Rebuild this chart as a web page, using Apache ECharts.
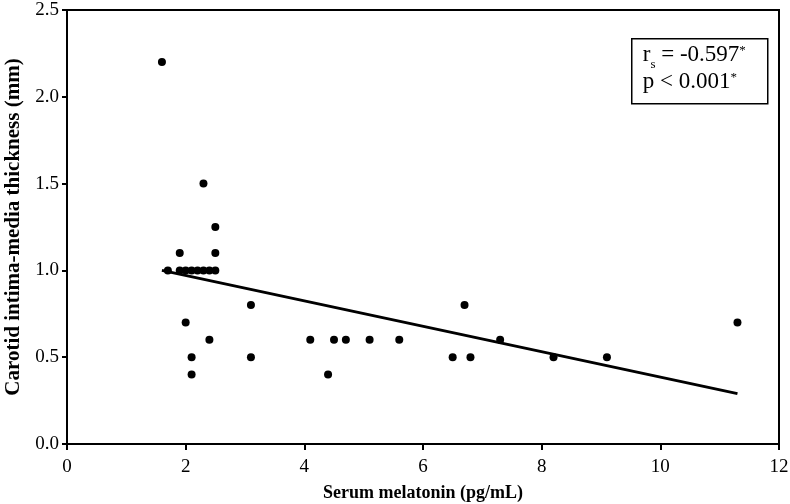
<!DOCTYPE html>
<html>
<head>
<meta charset="utf-8">
<script src="https://cdn.jsdelivr.net/npm/echarts@6/dist/echarts.min.js"></script>
<style>html,body{margin:0;padding:0;background:#fff}#c{width:790px;height:504px}</style>
</head>
<body>
<div id="c"></div>
<script>
var melatonin = [1.6, 1.7, 1.9, 2.0, 2.1, 2.2, 2.3, 2.4, 2.5, 1.9, 2.3, 2.5, 2.5, 2.0, 2.1, 2.1, 2.4, 3.1, 3.1, 4.1, 4.4, 4.5, 4.7, 5.1, 5.6, 6.5, 6.7, 6.8, 7.3, 8.2, 9.1, 11.3];
var cimt      = [2.2, 1.0, 1.0, 1.0, 1.0, 1.0, 1.0, 1.0, 1.0, 1.1, 1.5, 1.25, 1.1, 0.7, 0.5, 0.4, 0.6, 0.8, 0.5, 0.6, 0.4, 0.6, 0.6, 0.6, 0.6, 0.5, 0.8, 0.5, 0.6, 0.5, 0.5, 0.7];
var trendX = [1.6, 11.3];
var trendY = [1.0, 0.29];
var xTicks = [0, 2, 4, 6, 8, 10, 12];
var yTicks = [0.0, 0.5, 1.0, 1.5, 2.0, 2.5];

var pts = melatonin.map(function (x, i) { return [x, cimt[i]]; });
var line = trendX.map(function (x, i) { return [x, trendY[i]]; });
var FONT = '"Liberation Serif", "Times New Roman", serif';

var chart = echarts.init(document.getElementById('c'));
chart.setOption({
  animation: false,
  backgroundColor: '#fff',
  grid: { left: 67, right: 11, top: 10, bottom: 60, show: true, borderColor: '#000', borderWidth: 2, backgroundColor: 'transparent', containLabel: false, outerBoundsMode: 'none' },
  xAxis: {
    type: 'value', min: xTicks[0], max: xTicks[xTicks.length - 1], interval: 2,
    name: 'Serum melatonin (pg/mL)', nameLocation: 'middle', nameGap: 40,
    nameTextStyle: { fontFamily: FONT, fontWeight: 'bold', fontSize: 18, color: '#000' },
    axisLine: { show: true, lineStyle: { color: '#000', width: 2 } },
    axisTick: { show: true, length: 6, lineStyle: { color: '#000', width: 2 } },
    axisLabel: { fontFamily: FONT, fontSize: 19, color: '#000', margin: 14 },
    splitLine: { show: false }
  },
  yAxis: {
    type: 'value', min: yTicks[0], max: yTicks[yTicks.length - 1], interval: 0.5,
    name: 'Carotid intima-media thickness (mm)', nameLocation: 'middle', nameGap: 40,
    nameTextStyle: { fontFamily: FONT, fontWeight: 'bold', fontSize: 21, color: '#000' },
    axisLine: { show: true, lineStyle: { color: '#000', width: 2 } },
    axisTick: { show: true, length: 5, lineStyle: { color: '#000', width: 2 } },
    axisLabel: { fontFamily: FONT, fontSize: 19, color: '#000', margin: 8, formatter: function (v) { return v.toFixed(1); } },
    splitLine: { show: false }
  },
  series: [
    { type: 'scatter', data: pts, symbol: 'circle', symbolSize: 8, itemStyle: { color: '#000', opacity: 1 }, z: 3 },
    { type: 'line', data: line, showSymbol: false, symbol: 'none', lineStyle: { color: '#000', width: 3 }, z: 2 }
  ],
  graphic: [{
    type: 'group', left: 631, top: 38,
    children: [
      { type: 'rect', shape: { x: 0, y: 0, width: 136, height: 65 }, style: { fill: '#fff', stroke: '#000', lineWidth: 1.5 } },
      { type: 'text', x: 11, y: 2, style: {
          text: '{n|r}{sub|s}{n| = -0.597}{sup|*}',
          rich: {
            n: { fontFamily: FONT, fontSize: 23, fill: '#000', verticalAlign: 'bottom', lineHeight: 26 },
            sub: { fontFamily: FONT, fontSize: 13, fill: '#000', padding: [0, 0, -4, 0], verticalAlign: 'bottom', lineHeight: 26 },
            sup: { fontFamily: FONT, fontSize: 13, fill: '#000', padding: [0, 0, 10, 0], verticalAlign: 'bottom', lineHeight: 26 }
          } } },
      { type: 'text', x: 11, y: 29, style: {
          text: '{n|p < 0.001}{sup|*}',
          rich: {
            n: { fontFamily: FONT, fontSize: 23, fill: '#000', verticalAlign: 'bottom', lineHeight: 26 },
            sup: { fontFamily: FONT, fontSize: 13, fill: '#000', padding: [0, 0, 10, 0], verticalAlign: 'bottom', lineHeight: 26 }
          } } }
    ]
  }]
});
</script>
</body>
</html>
